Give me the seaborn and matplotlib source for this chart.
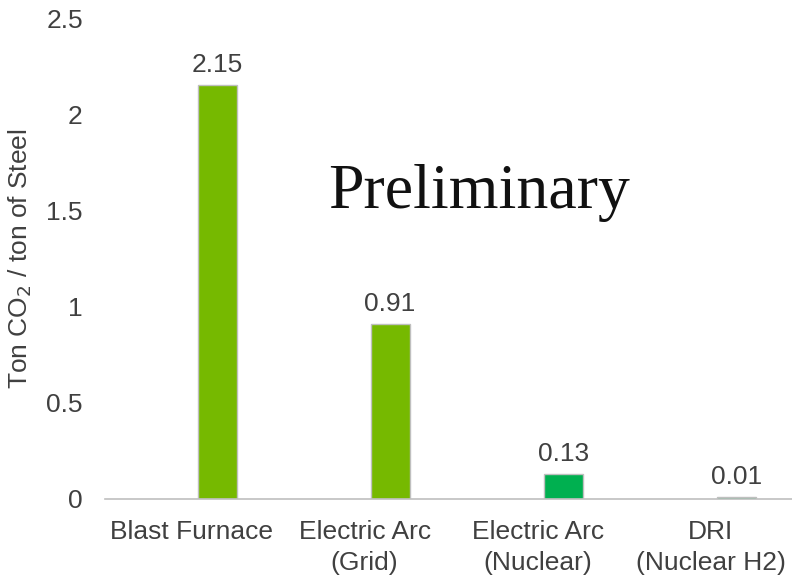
import numpy as np
import pandas as pd
import seaborn as sns
import matplotlib.pyplot as plt

# 데이터
processes = ["Blast Furnace", "Electric Arc\n(Grid)", "Electric Arc\n(Nuclear)", "DRI\n(Nuclear H2)"]
co2_per_ton = [2.15, 0.91, 0.13, 0.01]
pad_values = [0, 0, 0, 0]   # Excel 차트의 빈 계열 (막대를 오른쪽으로 밀어냄)
bar_colors = ["#76B900", "#76B900", "#00B050", "#00B050"]
y_ticks = [0, 0.5, 1, 1.5, 2, 2.5]
y_tick_labels = ["0", "0.5", "1", "1.5", "2", "2.5"]

df = pd.DataFrame({
    "process": processes * 2,
    "value": pad_values + co2_per_ton,
    "series": ["pad"] * 4 + ["co2"] * 4,
})

sns.set_style("white")
plt.rcParams["font.family"] = ["Liberation Sans", "DejaVu Sans"]
text_color = "#404040"
fs = 19

fig = plt.figure(figsize=(7.92, 5.78), dpi=100)
ax = fig.add_axes([0.1326, 0.1367, 0.874, 0.832])

sns.barplot(data=df, x="process", y="value", hue="series", hue_order=["pad", "co2"],
            palette={"pad": "white", "co2": "#76B900"}, width=0.59, gap=0.237,
            edgecolor="#BFBFBF", linewidth=1, legend=False, ax=ax)

# 빈 계열은 숨기고, 실제 막대는 색 지정
for p in ax.containers[0]:
    p.set_visible(False)
for p, c in zip(ax.containers[1], bar_colors):
    p.set_facecolor(c)

ax.bar_label(ax.containers[1], fmt="%.2f", padding=6, fontsize=fs, color=text_color)

ax.set_ylim(0, 2.5)
ax.set_xlim(-0.5, 3.5)
ax.set_yticks(y_ticks)
ax.set_yticklabels(y_tick_labels)
ax.tick_params(axis="y", length=0, pad=16, labelsize=fs, labelcolor=text_color)
ax.tick_params(axis="x", length=0, pad=15, labelsize=fs, labelcolor=text_color)
for lbl in ax.get_xticklabels():
    lbl.set_linespacing(1.4)
ax.set_xlabel("")
ax.set_ylabel("Ton CO$_2$ / ton of Steel", fontsize=fs, color=text_color, labelpad=9)

for s in ["top", "right", "left"]:
    ax.spines[s].set_visible(False)
ax.spines["bottom"].set_color("#BFBFBF")
ax.spines["bottom"].set_linewidth(1.2)

ax.text(1.66, 1.59, "Preliminary", fontsize=46, family="Liberation Serif",
        color="#111111", ha="center", va="center")

fig.savefig("out.png", dpi=100)
